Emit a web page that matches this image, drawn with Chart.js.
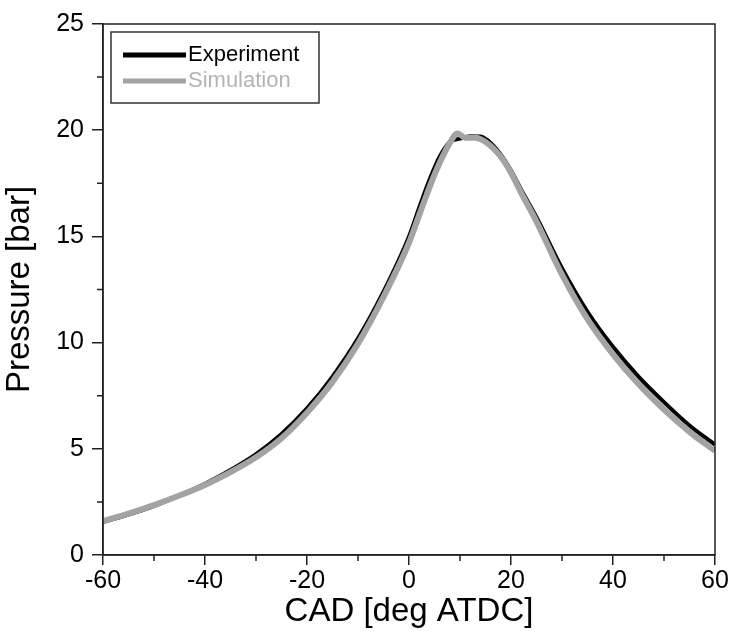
<!DOCTYPE html>
<html>
<head>
<meta charset="utf-8">
<script src="https://cdn.jsdelivr.net/npm/chart.js@4.4.1/dist/chart.umd.min.js"></script>
<style>
  html, body { margin: 0; padding: 0; background: #fff; }
  #wrap { width: 735px; height: 632px; }
</style>
</head>
<body>
<div id="wrap"><canvas id="pressureChart"></canvas></div>
<script>
// crank angle [deg ATDC] and cylinder pressure [bar]
const expAngle = [-60, -55, -50, -45, -40, -35, -30, -25, -20, -15, -10, -5, 0, 2, 4, 6, 8, 10, 12, 14, 16, 18, 20, 22, 25, 30, 35, 40, 45, 50, 55, 60];
const expPressure = [1.55, 1.9, 2.3, 2.8, 3.35, 4.0, 4.75, 5.7, 6.9, 8.4, 10.2, 12.4, 15.0, 16.35, 17.65, 18.75, 19.45, 19.6, 19.72, 19.7, 19.4, 18.85, 18.1, 17.2, 15.9, 13.5, 11.45, 9.8, 8.4, 7.2, 6.1, 5.2];

const simAngle = [-60, -55, -50, -45, -40, -35, -30, -25, -20, -15, -10, -5, 0, 2, 4, 6, 8, 9.5, 11, 13, 15, 18, 20, 22, 25, 30, 35, 40, 45, 50, 55, 60];
const simPressure = [1.6, 1.95, 2.35, 2.8, 3.3, 3.9, 4.6, 5.5, 6.7, 8.15, 9.95, 12.15, 14.7, 16.0, 17.3, 18.45, 19.4, 19.85, 19.65, 19.65, 19.45, 18.75, 18.0, 17.05, 15.7, 13.2, 11.1, 9.45, 8.05, 6.85, 5.8, 4.9];

const xTicksMinor = [-50, -30, -10, 10, 30, 50];
const yTicksMinor = [2.5, 7.5, 12.5, 17.5, 22.5];

const FONT = "'Liberation Sans', Arial, sans-serif";

const toPoints = (xs, ys) => xs.map((x, i) => ({ x: x, y: ys[i] }));

// box around the plot, minor ticks and the boxed legend
const framePlugin = {
  id: 'frame',
  afterDraw(chart) {
    const { ctx, chartArea: a, scales } = chart;
    ctx.save();
    ctx.strokeStyle = '#222';
    ctx.lineWidth = 1.5;
    ctx.strokeRect(a.left, a.top, a.right - a.left, a.bottom - a.top);

    ctx.beginPath();
    xTicksMinor.forEach(v => {
      const px = scales.x.getPixelForValue(v);
      ctx.moveTo(px, a.bottom);
      ctx.lineTo(px, a.bottom + 6);
    });
    yTicksMinor.forEach(v => {
      const py = scales.y.getPixelForValue(v);
      ctx.moveTo(a.left, py);
      ctx.lineTo(a.left - 6, py);
    });
    ctx.stroke();

    // legend
    const bx = a.left + 8, by = a.top + 8, bw = 208, bh = 71;
    ctx.fillStyle = '#fff';
    ctx.fillRect(bx, by, bw, bh);
    ctx.lineWidth = 1.5;
    ctx.strokeStyle = '#333';
    ctx.strokeRect(bx, by, bw, bh);
    ctx.font = '22px ' + FONT;
    ctx.textBaseline = 'middle';
    chart.data.datasets.forEach((ds, i) => {
      const ly = by + 23 + i * 26;
      ctx.strokeStyle = ds.borderColor;
      ctx.lineWidth = 5;
      ctx.beginPath();
      ctx.moveTo(bx + 12, ly);
      ctx.lineTo(bx + 75, ly);
      ctx.stroke();
      ctx.fillStyle = ds.legendTextColor;
      ctx.fillText(ds.label, bx + 77, ly);
    });
    ctx.restore();
  }
};

new Chart(document.getElementById('pressureChart'), {
  type: 'line',
  data: {
    datasets: [
      {
        label: 'Experiment',
        data: toPoints(expAngle, expPressure),
        borderColor: '#000000',
        legendTextColor: '#000000',
        borderWidth: 4,
        pointRadius: 0,
        cubicInterpolationMode: 'monotone',
        order: 2
      },
      {
        label: 'Simulation',
        data: toPoints(simAngle, simPressure),
        borderColor: '#a3a3a3',
        legendTextColor: '#b4b4b4',
        borderWidth: 6,
        pointRadius: 0,
        cubicInterpolationMode: 'monotone',
        order: 1
      }
    ]
  },
  options: {
    responsive: true,
    maintainAspectRatio: false,
    animation: false,
    layout: { padding: { top: 24, right: 20, left: 0, bottom: 0 } },
    plugins: {
      legend: { display: false },
      tooltip: { enabled: false }
    },
    scales: {
      x: {
        type: 'linear',
        min: -60,
        max: 60,
        afterFit: s => { s.height = 77; },
        ticks: {
          stepSize: 20,
          color: '#000',
          padding: 1,
          maxRotation: 0,
          font: { family: FONT, size: 25 }
        },
        grid: { drawOnChartArea: false, drawTicks: true, tickLength: 10, color: '#222', lineWidth: 1.5 },
        border: { display: true, color: '#222', width: 1.5 },
        title: {
          display: true,
          text: 'CAD [deg ATDC]',
          color: '#000',
          font: { family: FONT, size: 33 },
          padding: { top: 0, bottom: 0 }
        }
      },
      y: {
        min: 0,
        max: 25,
        afterFit: s => { s.width = 103; },
        ticks: {
          stepSize: 5,
          color: '#000',
          padding: 8,
          font: { family: FONT, size: 25 }
        },
        grid: { drawOnChartArea: false, drawTicks: true, tickLength: 11, color: '#222', lineWidth: 1.5 },
        border: { display: true, color: '#222', width: 1.5 },
        title: {
          display: true,
          text: 'Pressure [bar]',
          color: '#000',
          font: { family: FONT, size: 33 },
          padding: { top: 0, bottom: 0 }
        }
      }
    }
  },
  plugins: [framePlugin]
});
</script>
</body>
</html>
